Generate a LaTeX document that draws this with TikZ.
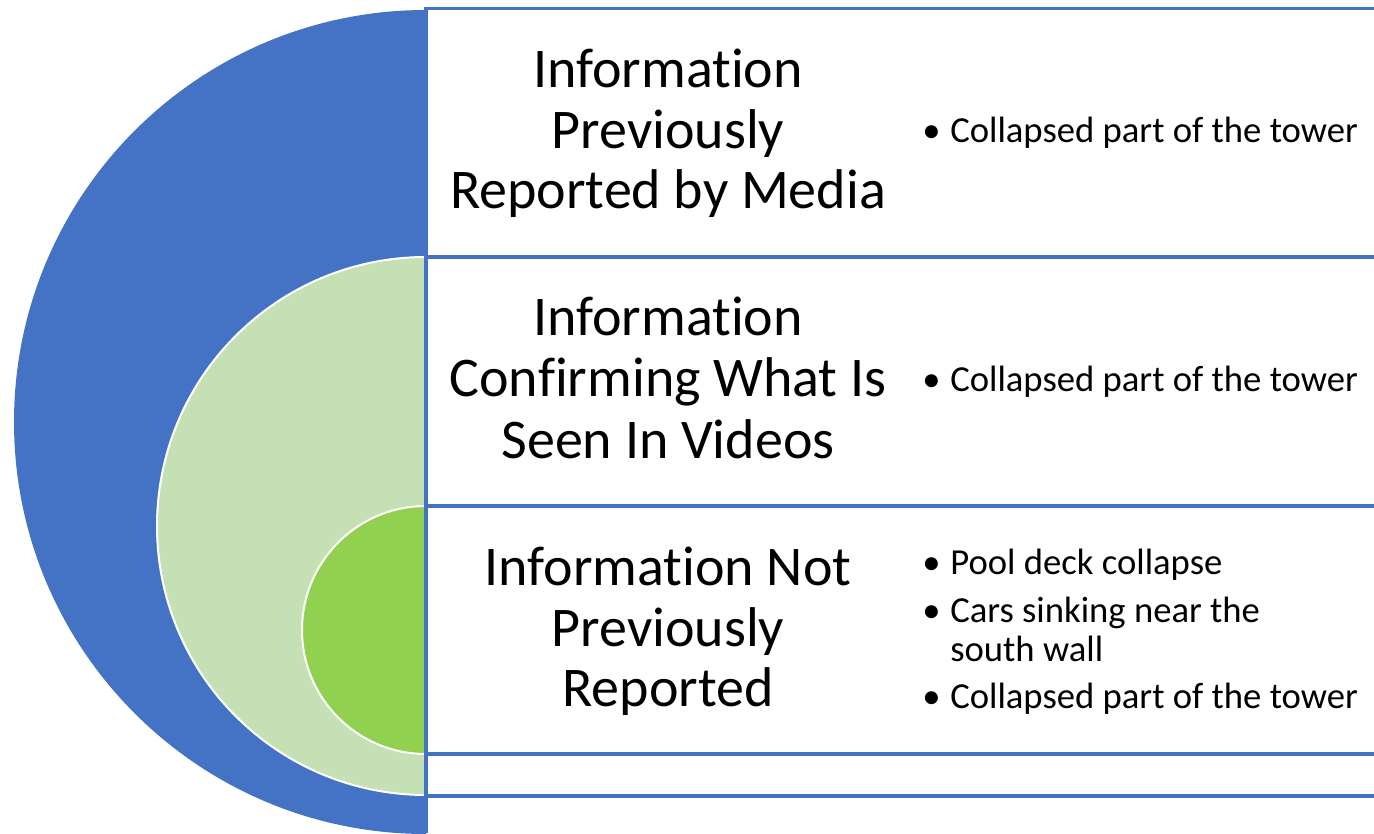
\documentclass[tikz,border=0pt]{standalone}
\usepackage{fontspec}
\setmainfont{Carlito}[RawFeature={-liga}]
\definecolor{cblue}{HTML}{4472C4}
\definecolor{clight}{HTML}{C5E0B4}
\definecolor{cgreen}{HTML}{92D050}
\begin{document}
\begin{tikzpicture}[x=0.75pt,y=0.75pt,
  head/.style={anchor=base,inner sep=0pt,font=\fontsize{42}{50}\selectfont},
  bul/.style={anchor=base west,inner sep=0pt,font=\fontsize{27.5}{29.25}\selectfont},
  sep/.style={draw=cblue,line width=2.3pt},
  half/.style={draw=white,line width=1.5pt}]
\useasboundingbox (0,0) rectangle (1374,833);
\clip (0,0) rectangle (1374,833);
% half discs
\fill[cblue] (426,411) ++(0,412) arc[start angle=90,end angle=270,radius=412] -- cycle;
\filldraw[clight,half] (426,307) ++(0,269) arc[start angle=90,end angle=270,radius=269] -- cycle;
\filldraw[cgreen,half] (426,203) ++(0,124) arc[start angle=90,end angle=270,radius=124] -- cycle;
% frame lines
\coordinate (vt) at (426,825.5);
\coordinate (vb) at (426,0);
\draw[sep] (vt) -- (vb);
\foreach \yy in {824.5,576,327,79,37} \draw[sep] (424.8,\yy) -- (1374,\yy);
% headings
\node[head] (h1a) at (668,745) {Information};
\node[head] (h1b) at (668,684) {Previously};
\node[head] (h1c) at (668,624) {Reported by Media};
\node[head] (h2a) at (668,497) {Information};
\node[head] (h2b) at (668,436) {Confirming What Is};
\node[head] (h2c) at (668,375) {Seen In Videos};
\node[head] (h3a) at (668,248) {Information Not};
\node[head] (h3b) at (668,187) {Previously};
\node[head] (h3c) at (668,127) {Reported};
% bullets
\node[bul] (b1) at (922,690) {\makebox[21pt][l]{•}Collapsed part of the tower};
\node[bul] (b2) at (922,441) {\makebox[21pt][l]{•}Collapsed part of the tower};
\node[bul] (b3a) at (922,259) {\makebox[21pt][l]{•}Pool deck collapse};
\node[bul] (b3b) at (922,211) {\makebox[21pt][l]{•}Cars sinking near the};
\node[bul] (b3c) at (922,172) {\hspace*{21pt}south wall};
\node[bul] (b3d) at (922,125) {\makebox[21pt][l]{•}Collapsed part of the tower};
\end{tikzpicture}
\end{document}
